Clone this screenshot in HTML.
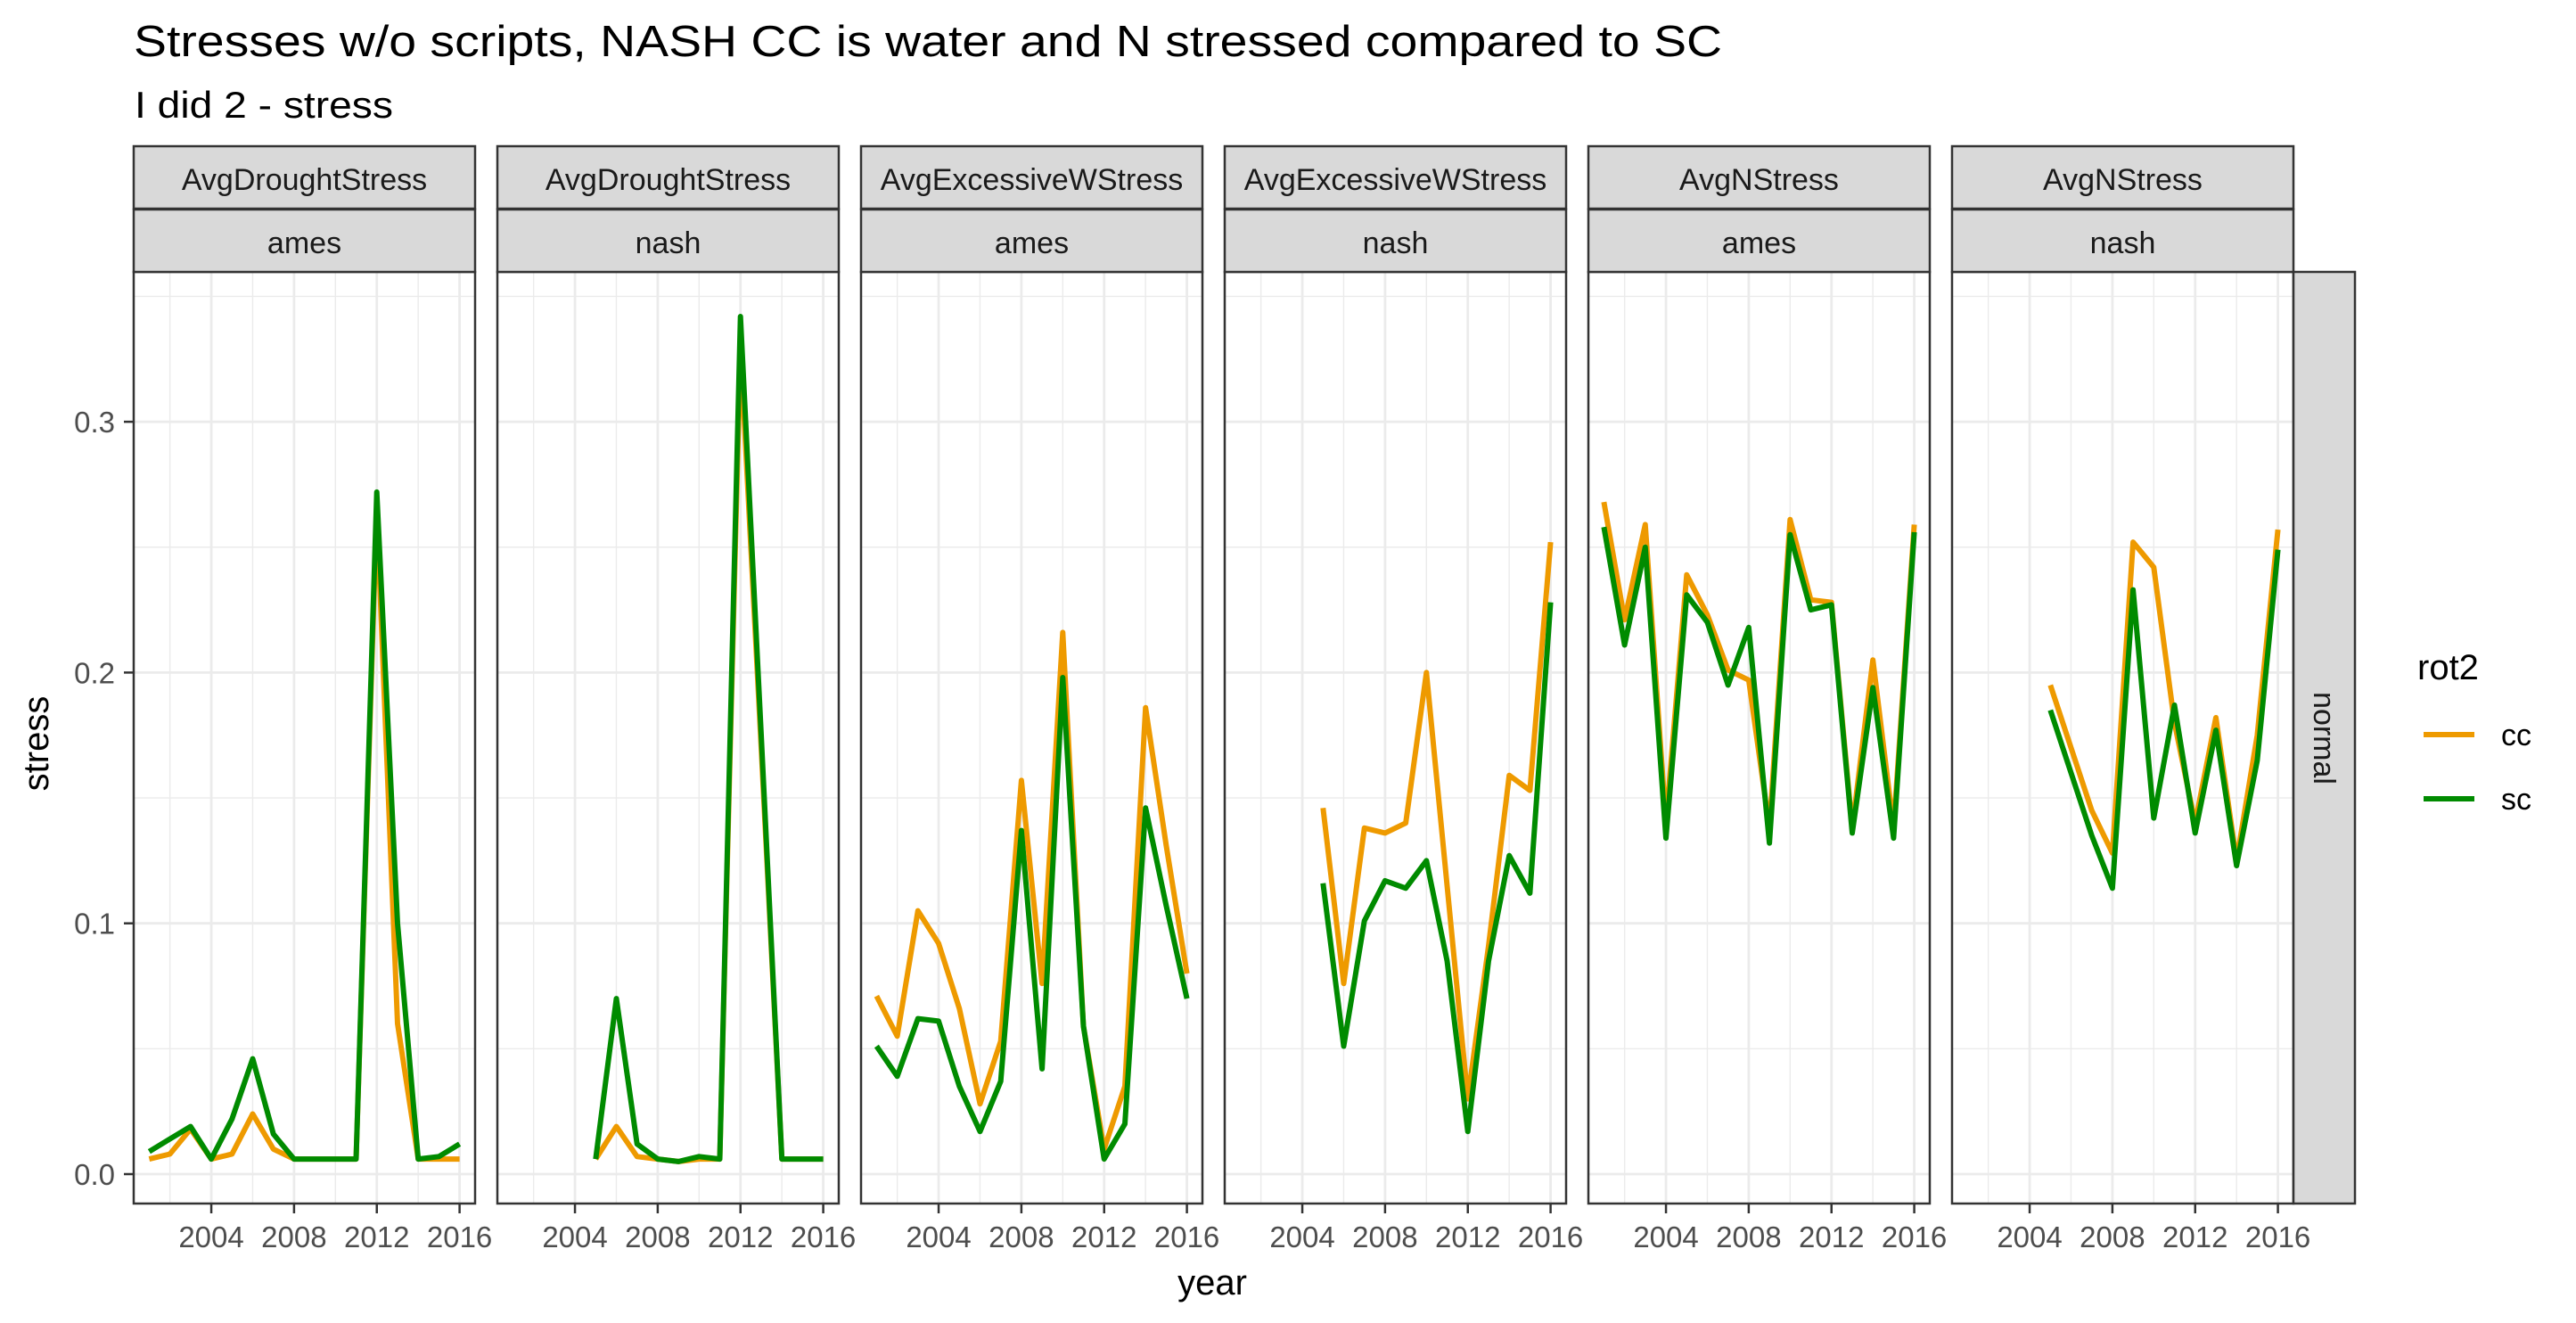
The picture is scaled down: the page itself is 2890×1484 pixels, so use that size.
<!DOCTYPE html>
<html><head><meta charset="utf-8"><style>
html,body{margin:0;padding:0;background:#fff;}
svg{display:block;font-family:"Liberation Sans",Arial,sans-serif;}
</style></head><body>
<svg id="chart" width="2890" height="1484" viewBox="0 0 2890 1484" xmlns="http://www.w3.org/2000/svg">
<rect width="2890" height="1484" fill="#fff"/>
<text x="150" y="63" font-size="49" fill="#000" textLength="1782" lengthAdjust="spacingAndGlyphs">Stresses w/o scripts, NASH CC is water and N stressed compared to SC</text>
<text x="151" y="132" font-size="42" fill="#000" textLength="290" lengthAdjust="spacingAndGlyphs">I did 2 - stress</text>
<text x="1360" y="1452" font-size="40" text-anchor="middle" fill="#000">year</text>
<text transform="translate(54,834) rotate(-90)" font-size="40" text-anchor="middle" fill="#000">stress</text>
<g id="panels"></g>
<g>
<text x="2712" y="762" font-size="40" fill="#000">rot2</text>
<g>
<line x1="2719" y1="824" x2="2776" y2="824" stroke="#EE9A00" stroke-width="6"/>
<text x="2806" y="836" font-size="34" fill="#000">cc</text></g>
<g>
<line x1="2719" y1="896" x2="2776" y2="896" stroke="#008B00" stroke-width="6"/>
<text x="2806" y="908" font-size="34" fill="#000">sc</text></g>
</g>
</svg>
<script>
const panelVars = ["AvgDroughtStress","AvgDroughtStress","AvgExcessiveWStress","AvgExcessiveWStress","AvgNStress","AvgNStress"];
const panelSites = ["ames","nash","ames","nash","ames","nash"];
const yearsAmes = [2001,2002,2003,2004,2005,2006,2007,2008,2009,2010,2011,2012,2013,2014,2015,2016];
const yearsNash = [2005,2006,2007,2008,2009,2010,2011,2012,2013,2014,2015,2016];
const xTicks = [2004,2008,2012,2016];
const xMinor = [2002,2006,2010,2014];
const yTicks = [0,0.1,0.2,0.3];
const yTickLabels = ["0.0","0.1","0.2","0.3"];
const yMinor = [0.05,0.15,0.25,0.35];
const ccDroughtAmes = [0.006,0.008,0.018,0.006,0.008,0.024,0.010,0.006,0.006,0.006,0.006,0.265,0.060,0.006,0.006,0.006];
const scDroughtAmes = [0.009,0.014,0.019,0.006,0.022,0.046,0.016,0.006,0.006,0.006,0.006,0.272,0.100,0.006,0.007,0.012];
const ccDroughtNash = [0.006,0.019,0.007,0.006,0.005,0.006,0.006,0.330,0.170,0.006,0.006,0.006];
const scDroughtNash = [0.006,0.070,0.012,0.006,0.005,0.007,0.006,0.342,0.175,0.006,0.006,0.006];
const ccWetAmes = [0.071,0.055,0.105,0.092,0.066,0.028,0.053,0.157,0.076,0.216,0.059,0.010,0.035,0.186,0.131,0.080];
const scWetAmes = [0.051,0.039,0.062,0.061,0.035,0.017,0.037,0.137,0.042,0.198,0.059,0.006,0.020,0.146,0.107,0.070];
const ccWetNash = [0.146,0.076,0.138,0.136,0.140,0.200,0.115,0.030,0.091,0.159,0.153,0.252];
const scWetNash = [0.116,0.051,0.101,0.117,0.114,0.125,0.085,0.017,0.085,0.127,0.112,0.228];
const ccNAmes = [0.268,0.221,0.259,0.140,0.239,0.223,0.201,0.197,0.138,0.261,0.229,0.228,0.138,0.205,0.138,0.259];
const scNAmes = [0.258,0.211,0.250,0.134,0.231,0.220,0.195,0.218,0.132,0.255,0.225,0.227,0.136,0.194,0.134,0.256];
const ccNNash = [0.195,0.170,0.145,0.128,0.252,0.242,0.180,0.140,0.182,0.125,0.175,0.257];
const scNNash = [0.185,0.160,0.135,0.114,0.233,0.142,0.187,0.136,0.177,0.123,0.165,0.249];

const ccSeries = [ccDroughtAmes,ccDroughtNash,ccWetAmes,ccWetNash,ccNAmes,ccNNash];
const scSeries = [scDroughtAmes,scDroughtNash,scWetAmes,scWetNash,scNAmes,scNNash];
const yearSets = [yearsAmes,yearsNash,yearsAmes,yearsNash,yearsAmes,yearsNash];

const NS = "http://www.w3.org/2000/svg";
const P0 = 150, PW = 383, PSTEP = 408, PT = 305, PB = 1350;
const X0 = 2000.25, X1 = 2016.75;
function xs(left, yr){ return left + (yr - X0) / (X1 - X0) * PW; }
function ys(v){ return 1317 - v * 2813; }
function mk(tag, attrs, parent){ const e = document.createElementNS(NS, tag); for (const k in attrs) e.setAttribute(k, attrs[k]); parent.appendChild(e); return e; }

const root = document.getElementById('panels');
const yax = mk('g', {}, root);


yTicks.forEach((t, i) => {
  mk('line', {x1:139, x2:150, y1:ys(t), y2:ys(t), stroke:'#333', 'stroke-width':2.5}, yax);
  const tx = mk('text', {x:129, y:ys(t)+12, 'font-size':33, 'text-anchor':'end', fill:'#4D4D4D'}, yax);
  tx.textContent = yTickLabels[i];
  
  
});

for (let p = 0; p < 6; p++) {
  const left = P0 + p * PSTEP;
  const g = mk('g', {}, root);
  
  
  mk('rect', {x:left, y:PT, width:PW, height:PB-PT, fill:'#fff'}, g);
  yMinor.forEach(v => mk('line', {x1:left, x2:left+PW, y1:ys(v), y2:ys(v), stroke:'#EBEBEB', 'stroke-width':1.4}, g));
  xMinor.forEach(v => mk('line', {x1:xs(left,v), x2:xs(left,v), y1:PT, y2:PB, stroke:'#EBEBEB', 'stroke-width':1.4}, g));
  yTicks.forEach(v => mk('line', {x1:left, x2:left+PW, y1:ys(v), y2:ys(v), stroke:'#EBEBEB', 'stroke-width':2.8}, g));
  xTicks.forEach(v => mk('line', {x1:xs(left,v), x2:xs(left,v), y1:PT, y2:PB, stroke:'#EBEBEB', 'stroke-width':2.8}, g));
  [[ccSeries[p], '#EE9A00', 'cc'], [scSeries[p], '#008B00', 'sc']].forEach(([vals, col, nm]) => {
    const pts = vals.map((v, i) => xs(left, yearSets[p][i]).toFixed(1) + ',' + ys(v).toFixed(1)).join(' ');
    const pl = mk('polyline', {points:pts, fill:'none', stroke:col, 'stroke-width':6, 'stroke-linejoin':'round'}, g);
    
    
  });
  mk('rect', {x:left, y:PT, width:PW, height:PB-PT, fill:'none', stroke:'#333', 'stroke-width':2.5}, g);
  const s1 = mk('g', {}, g);
  
  
  mk('rect', {x:left, y:164, width:PW, height:70, fill:'#D9D9D9', stroke:'#333', 'stroke-width':2.5}, s1);
  const t1 = mk('text', {x:left+PW/2, y:213, 'font-size':34, 'text-anchor':'middle', fill:'#1A1A1A'}, s1);
  t1.textContent = panelVars[p];
  const s2 = mk('g', {}, g);
  
  
  mk('rect', {x:left, y:235, width:PW, height:70, fill:'#D9D9D9', stroke:'#333', 'stroke-width':2.5}, s2);
  const t2 = mk('text', {x:left+PW/2, y:284, 'font-size':34, 'text-anchor':'middle', fill:'#1A1A1A'}, s2);
  t2.textContent = panelSites[p];
  const xa = mk('g', {}, g);
  
  
  xTicks.forEach(v => {
    mk('line', {x1:xs(left,v), x2:xs(left,v), y1:PB, y2:PB+11, stroke:'#333', 'stroke-width':2.5}, xa);
    const tx = mk('text', {x:xs(left,v), y:1399, 'font-size':33, 'text-anchor':'middle', fill:'#4D4D4D'}, xa);
    tx.textContent = String(v);
    
    
  });
}
const rs = mk('g', {}, root);


mk('rect', {x:2573, y:PT, width:69, height:PB-PT, fill:'#D9D9D9', stroke:'#333', 'stroke-width':2.5}, rs);
const rt = mk('text', {transform:'translate(2596,828) rotate(90)', 'font-size':34, 'text-anchor':'middle', fill:'#1A1A1A'}, rs);
rt.textContent = 'normal';
</script>
</body></html>
